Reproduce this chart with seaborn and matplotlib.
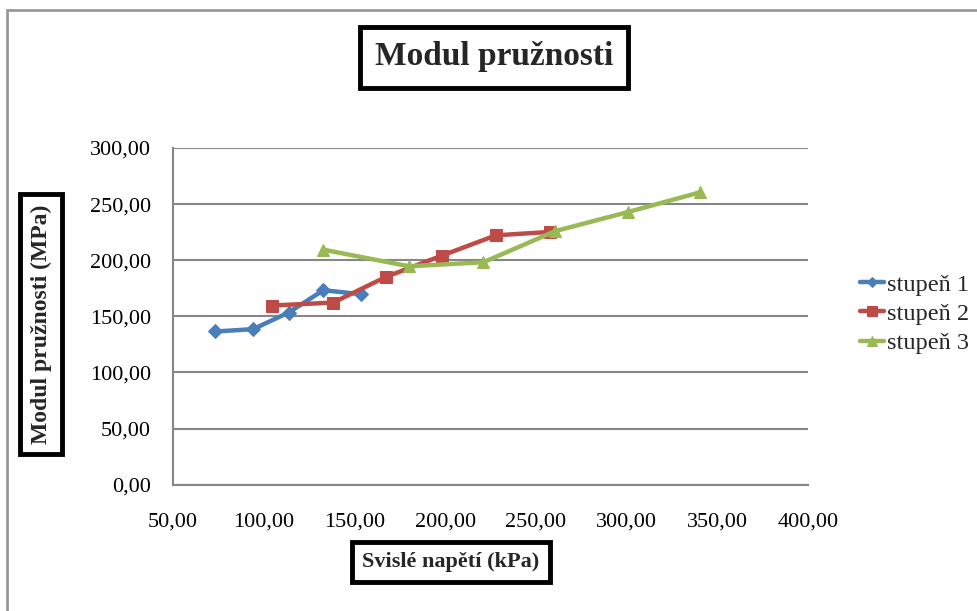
import matplotlib
matplotlib.use("Agg")
import matplotlib.pyplot as plt
import seaborn as sns
import pandas as pd
from matplotlib.ticker import FuncFormatter, FixedLocator
from matplotlib.patches import Rectangle

# Data
s1_x = [73.4, 94.2, 113.7, 132.9, 153.6]
s1_y = [136.5, 138.6, 153.4, 173.3, 169.7]
s2_x = [104.3, 138.4, 167.3, 198.2, 228.0, 257.6]
s2_y = [159.6, 162.3, 185.1, 204.1, 222.2, 225.2]
s3_x = [132.5, 180.1, 221.1, 260.8, 300.9, 340.5]
s3_y = [209.5, 194.6, 198.2, 226.0, 243.0, 260.5]
series_names = ["stupeň 1", "stupeň 2", "stupeň 3"]
x_ticks = [50, 100, 150, 200, 250, 300, 350, 400]
y_ticks = [0, 50, 100, 150, 200, 250, 300]

df = pd.concat([
    pd.DataFrame({"x": s1_x, "y": s1_y, "s": series_names[0]}),
    pd.DataFrame({"x": s2_x, "y": s2_y, "s": series_names[1]}),
    pd.DataFrame({"x": s3_x, "y": s3_y, "s": series_names[2]}),
], ignore_index=True)

sns.set_theme(style="white")
plt.rcParams["font.family"] = ["Liberation Serif", "DejaVu Serif"]

fig = plt.figure(figsize=(9.78, 6.11), dpi=100)
ax = fig.add_axes([0.1769, 0.2067, 0.6493, 0.5511])

palette = {series_names[0]: "#4A7EBB", series_names[1]: "#BE4B48", series_names[2]: "#98B954"}
markers = {series_names[0]: "D", series_names[1]: "s", series_names[2]: "^"}
sizes = {series_names[0]: 7, series_names[1]: 9, series_names[2]: 9}

for name in series_names:
    sub = df[df["s"] == name]
    sns.lineplot(data=sub, x="x", y="y", ax=ax, color=palette[name], marker=markers[name],
                 markersize=sizes[name], markeredgecolor=palette[name], linewidth=3.2,
                 sort=False, label=name, estimator=None)

ax.set_xlim(50, 400)
ax.set_ylim(0, 300)
ax.xaxis.set_major_locator(FixedLocator(x_ticks))
ax.yaxis.set_major_locator(FixedLocator(y_ticks))
fmt = FuncFormatter(lambda v, p: f"{v:.2f}".replace(".", ","))
ax.xaxis.set_major_formatter(fmt)
ax.yaxis.set_major_formatter(fmt)
ax.tick_params(axis="both", labelsize=16, colors="#000000", length=0)
ax.tick_params(axis="x", pad=20)
ax.tick_params(axis="y", pad=16)
ax.grid(axis="y", color="#868686", linewidth=1.5)
ax.grid(axis="x", visible=False)
ax.set_axisbelow(True)
for sp in ["top", "right"]:
    ax.spines[sp].set_visible(False)
for sp in ["left", "bottom"]:
    ax.spines[sp].set_color("#868686")
    ax.spines[sp].set_linewidth(1.5)
ax.set_xlabel("")
ax.set_ylabel("")

leg = ax.legend(loc="center left", bbox_to_anchor=(1.066, 0.507), frameon=False,
                fontsize=17.5, handlelength=1.0, handletextpad=0.12, labelspacing=0.3,
                borderaxespad=0, markerscale=0.75)

box = dict(boxstyle="square,pad=0.45", facecolor="white", edgecolor="black", linewidth=3.5)
fig.text(494 / 978, 1 - 57 / 611, "Modul pružnosti", ha="center", va="center",
         fontsize=24, fontweight="bold", bbox=box)
fig.text(451 / 978, 1 - 562 / 611, "Svislé napětí (kPa)", ha="center", va="center",
         fontsize=16, fontweight="bold", bbox=dict(boxstyle="square,pad=0.45", facecolor="white",
                                                   edgecolor="black", linewidth=3.5))
fig.text(41 / 978, 1 - 324 / 611, "Modul pružnosti (MPa)", ha="center", va="center",
         rotation=90, fontsize=17, fontweight="bold",
         bbox=dict(boxstyle="square,pad=0.45", facecolor="white", edgecolor="black", linewidth=3.5))

# outer chart border
fig.patches.append(Rectangle((7 / 978, -0.05), 1.1, 1 - 10 / 611 + 0.05, transform=fig.transFigure,
                             fill=False, edgecolor="#999999", linewidth=2, zorder=0))

fig.savefig("out.png", dpi=100)
